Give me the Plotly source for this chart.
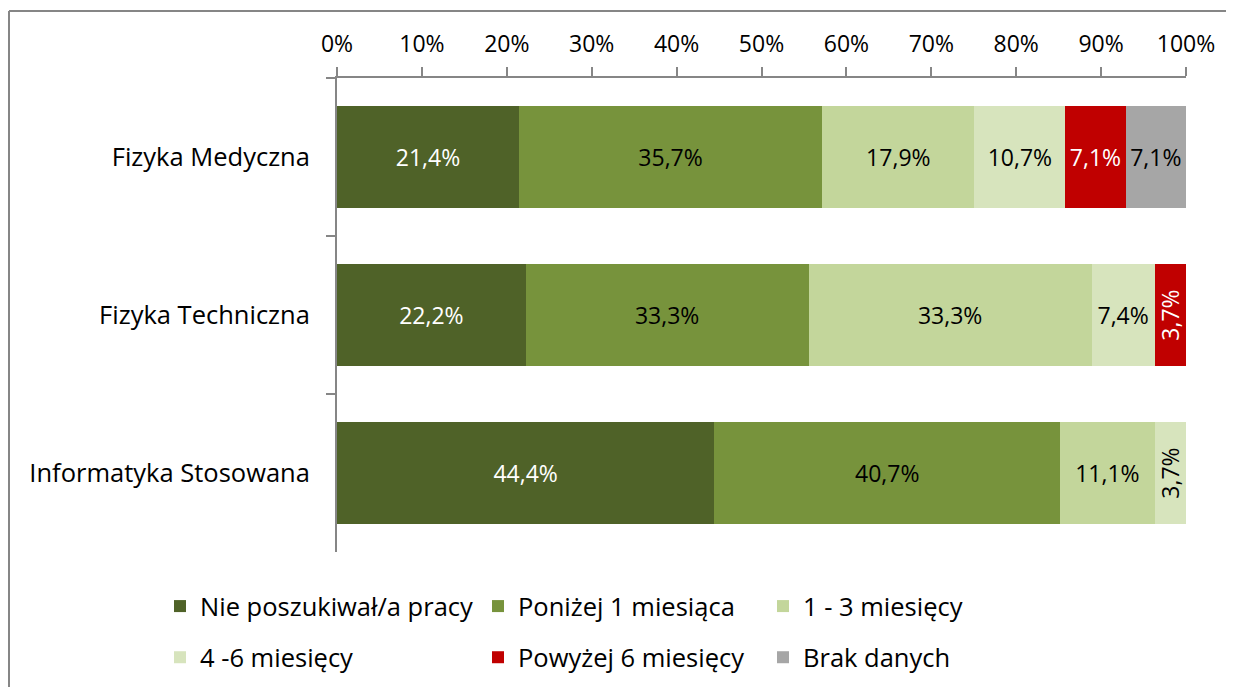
import plotly.graph_objects as go

categories = ["Fizyka Medyczna", "Fizyka Techniczna", "Informatyka Stosowana"]
series_names = ["Nie poszukiwał/a pracy", "Poniżej 1 miesiąca", "1 - 3 miesięcy",
                "4 -6 miesięcy", "Powyżej 6 miesięcy", "Brak danych"]
nie_poszukiwal = [21.4, 22.2, 44.4]
ponizej_1 = [35.7, 33.3, 40.7]
od_1_do_3 = [17.9, 33.3, 11.1]
od_4_do_6 = [10.7, 7.4, 3.7]
powyzej_6 = [7.1, 3.7, 0]
brak_danych = [7.1, 0, 0]
tick_values = [0, 10, 20, 30, 40, 50, 60, 70, 80, 90, 100]
tick_labels = ["0%", "10%", "20%", "30%", "40%", "50%", "60%", "70%", "80%", "90%", "100%"]

series = [nie_poszukiwal, ponizej_1, od_1_do_3, od_4_do_6, powyzej_6, brak_danych]
colors = ["#4F6228", "#77933C", "#C3D69B", "#D7E4BD", "#C00000", "#A6A6A6"]
text_colors = ["white", "black", "black", "black", "white", "black"]
legends = ["legend", "legend2", "legend3", "legend", "legend2", "legend3"]

FONT = "Open Sans"
FS_NUM = 23
FS_TXT = 25.5
NARROW = 5  # segments narrower than this get vertical labels
# page body has an 8px margin; coordinates below are in figure pixels
W, H = 1226, 679
L, R, T, B = 329, 48, 70, 135
pw, ph = W - L - R, H - T - B


def px(x):
    return (x - L) / pw


def py(y):
    return (H - B - y) / ph


def fmt(v):
    return ("%.1f%%" % v).replace(".", ",") if v > 0 else ""


fig = go.Figure()
for name, vals, col, tcol, lg in zip(series_names, series, colors, text_colors, legends):
    wide = [v if v >= NARROW else 0 for v in vals]
    narrow = [v if 0 < v < NARROW else 0 for v in vals]
    fig.add_trace(go.Bar(
        y=categories, x=wide, name=name, orientation="h",
        marker=dict(color=col, line=dict(width=0)),
        text=[fmt(v) for v in wide], textposition="inside", insidetextanchor="middle",
        textangle=0,
        textfont=dict(color=tcol, size=FS_NUM, family=FONT),
        legend=lg, legendgroup=name, hoverinfo="skip",
    ))
    if any(narrow):
        fig.add_trace(go.Bar(
            y=categories, x=narrow, name=name, orientation="h",
            marker=dict(color=col, line=dict(width=0)),
            text=[fmt(v) for v in narrow], textposition="inside", insidetextanchor="middle",
            textangle=-90, constraintext="none",
            textfont=dict(color=tcol, size=FS_NUM, family=FONT),
            legend=lg, legendgroup=name, showlegend=False, hoverinfo="skip",
        ))

leg_common = dict(orientation="v", xanchor="left", yanchor="top",
                  font=dict(size=FS_TXT, family=FONT, color="black"),
                  bgcolor="rgba(0,0,0,0)", tracegroupgap=15, traceorder="grouped")

border = dict(color="#868686", width=2)

fig.update_layout(
    width=W, height=H,
    margin=dict(l=L, r=R, t=T, b=B, autoexpand=False),
    barmode="stack", barnorm="percent", bargap=0.354,
    paper_bgcolor="white", plot_bgcolor="white",
    font=dict(family=FONT, size=FS_NUM, color="black"),
    xaxis=dict(side="top", range=[0, 100], tickvals=tick_values, ticktext=tick_labels,
               showgrid=False, zeroline=False, showline=True, linecolor="#868686", linewidth=2,
               ticks="outside", ticklen=9, tickwidth=2, tickcolor="#868686",
               ticklabelstandoff=6,
               tickfont=dict(size=FS_NUM, family=FONT, color="black")),
    yaxis=dict(autorange="reversed", showgrid=False, showline=True, linecolor="#868686",
               linewidth=2, ticks="outside", ticklen=9, tickwidth=2, tickcolor="#868686",
               tickson="boundaries", ticklabelstandoff=20,
               tickfont=dict(size=FS_TXT, family=FONT, color="black")),
    legend=dict(x=px(152), y=py(575), **leg_common),
    legend2=dict(x=px(470), y=py(575), **leg_common),
    legend3=dict(x=px(755), y=py(575), **leg_common),
    shapes=[
        dict(type="line", xref="paper", yref="paper", x0=px(1), x1=px(W + 20),
             y0=py(3), y1=py(3), line=border),
        dict(type="line", xref="paper", yref="paper", x0=px(1), x1=px(1),
             y0=py(3), y1=py(H + 20), line=border),
    ],
)

fig.write_html("out.html",
               post_script="document.documentElement.style.overflow='hidden';"
                           "document.body.style.overflow='hidden';")
